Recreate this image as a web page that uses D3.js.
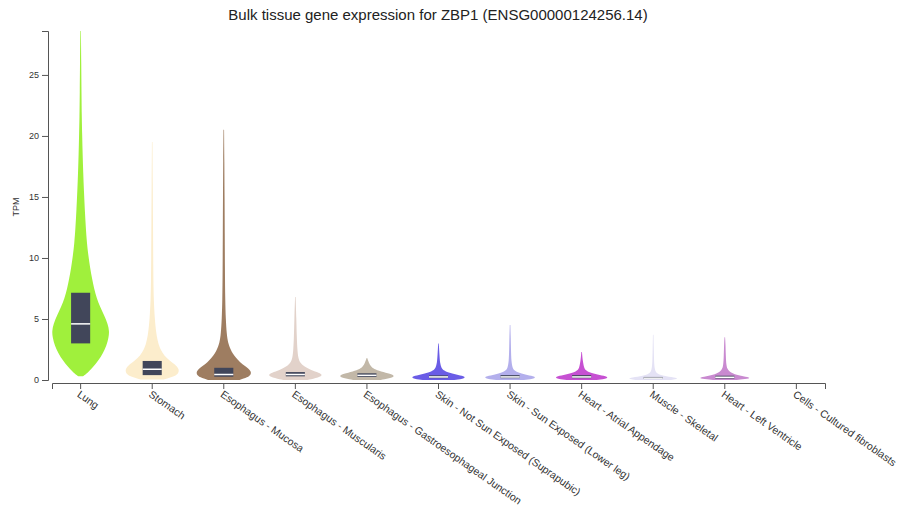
<!DOCTYPE html>
<html>
<head>
<meta charset="utf-8">
<script src="https://cdn.jsdelivr.net/npm/d3@7"></script>
<style>
  html, body { margin: 0; padding: 0; background: #fff; }
  svg { display: block; font-family: "Liberation Sans", Arial, sans-serif; }
</style>
</head>
<body>
<svg id="chart" width="898" height="510"></svg>
<script>
// ---- data ----
const title = "Bulk tissue gene expression for ZBP1 (ENSG00000124256.14)";
const yLabel = "TPM";
const tissues = [
  "Lung", "Stomach", "Esophagus - Mucosa", "Esophagus - Muscularis",
  "Esophagus - Gastroesophageal Junction", "Skin - Not Sun Exposed (Suprapubic)",
  "Skin - Sun Exposed (Lower leg)", "Heart - Atrial Appendage", "Muscle - Skeletal",
  "Heart - Left Ventricle", "Cells - Cultured fibroblasts"
];
const colors = ["#a0f03c", "#fcedcc", "#9e7d61", "#e2d2ca", "#c2b8a8", "#6a5ce6",
                "#b3afec", "#c650d2", "#e4e2f5", "#c98ad0", "#9ac0cd"];
const yTicks = [0, 5, 10, 15, 20, 25];

// violin profiles: [TPM, relative density]
const lungProfile = [[0.3,0.08],[0.5,0.2],[0.75,0.3],[1.1,0.45],[1.6,0.62],[2.2,0.78],[2.8,0.9],[3.5,0.98],[4.0,1.0],[4.6,0.95],[5.3,0.82],[6.0,0.68],[6.7,0.56],[7.5,0.47],[8.3,0.4],[9.2,0.33],[10.2,0.27],[11.2,0.22],[12.5,0.18],[14,0.145],[15.5,0.115],[17,0.09],[18.5,0.07],[20,0.055],[21.5,0.04],[23.5,0.03],[26,0.022],[28.6,0.01]];
const stomachProfile = [[0.05,0.4],[0.3,0.8],[0.6,0.93],[0.9,0.93],[1.2,0.84],[1.6,0.6],[2.0,0.42],[2.5,0.29],[3.0,0.21],[3.8,0.14],[5.0,0.09],[6.5,0.055],[8,0.042],[10,0.035],[13,0.028],[16,0.02],[19.5,0.01]];
const mucosaProfile = [[0.0,0.55],[0.2,0.83],[0.5,0.97],[0.8,0.93],[1.1,0.76],[1.5,0.55],[1.8,0.43],[2.2,0.3],[2.5,0.24],[3.0,0.15],[3.8,0.1],[5.0,0.07],[6.5,0.05],[9,0.04],[12,0.034],[15,0.028],[18,0.02],[20.5,0.01]];
const muscularisProfile = [[0.0,0.42],[0.2,0.83],[0.4,0.96],[0.6,0.83],[0.8,0.55],[1.1,0.31],[1.4,0.17],[1.8,0.1],[2.5,0.07],[3.5,0.05],[5,0.035],[6.8,0.01]];
const gejProfile = [[0.0,0.48],[0.2,0.9],[0.35,0.96],[0.5,0.83],[0.7,0.48],[0.9,0.24],[1.1,0.14],[1.4,0.07],[1.8,0.01]];
const skinNotSunProfile = [[0.0,0.55],[0.15,0.96],[0.3,0.9],[0.45,0.62],[0.6,0.34],[0.8,0.17],[1.0,0.1],[1.4,0.052],[2.0,0.035],[3.0,0.01]];
const skinSunProfile = [[0.0,0.48],[0.15,0.93],[0.3,0.83],[0.45,0.52],[0.6,0.28],[0.8,0.14],[1.0,0.086],[1.5,0.045],[2.5,0.031],[3.5,0.024],[4.5,0.01]];
const heartAAProfile = [[0.0,0.52],[0.15,0.96],[0.3,0.86],[0.45,0.55],[0.6,0.28],[0.8,0.14],[1.0,0.086],[1.5,0.041],[2.3,0.01]];
const muscleProfile = [[0.0,0.62],[0.1,0.9],[0.2,0.76],[0.35,0.34],[0.5,0.14],[0.8,0.052],[1.5,0.028],[2.5,0.02],[3.7,0.01]];
const heartLVProfile = [[0.0,0.41],[0.1,0.83],[0.2,0.9],[0.35,0.55],[0.5,0.28],[0.8,0.1],[1.2,0.052],[2.0,0.035],[3.0,0.024],[3.5,0.01]];
const fibroblastProfile = [];
const profiles = [lungProfile, stomachProfile, mucosaProfile, muscularisProfile, gejProfile,
  skinNotSunProfile, skinSunProfile, heartAAProfile, muscleProfile, heartLVProfile, fibroblastProfile];

// box stats
const q1 = [3.0, 0.4, 0.27, 0.3, 0.25, 0.15, 0.15, 0.15, 0.08, 0.12, null];
const medians = [4.6, 0.88, 0.45, 0.45, 0.38, 0.25, 0.25, 0.25, 0.15, 0.22, null];
const q3 = [7.15, 1.56, 1.0, 0.65, 0.55, 0.38, 0.4, 0.4, 0.25, 0.35, null];

// ---- drawing ----
const svg = d3.select("#chart");
const x = d3.scaleBand().domain(tissues).range([52, 825]).paddingInner(0.2).paddingOuter(0);
const y = d3.scaleLinear().domain([0, 28.6]).range([380, 31]);

svg.append("text")
  .attr("x", 438).attr("y", 20)
  .attr("text-anchor", "middle")
  .attr("font-size", 15)
  .attr("fill", "#222")
  .text(title);

const hw = x.bandwidth() / 2;
const area = d3.area()
  .y(d => y(d[0]))
  .x0(d => -d[1] * hw)
  .x1(d => d[1] * hw)
  .curve(d3.curveBasis);

tissues.forEach((t, i) => {
  const g = svg.append("g").attr("transform", `translate(${x(t) + hw},0)`);
  const prof = profiles[i];
  if (prof.length) {
    g.append("path")
      .attr("d", area(prof))
      .attr("fill", colors[i])
      .attr("stroke", "none");
  }
  if (q1[i] !== null) {
    const bw = x.bandwidth() / 3;
    g.append("rect")
      .attr("x", -bw / 2).attr("width", bw)
      .attr("y", y(q3[i])).attr("height", Math.max(1, y(q1[i]) - y(q3[i])))
      .attr("fill", "#41465a");
    g.append("line")
      .attr("x1", -bw / 2).attr("x2", bw / 2)
      .attr("y1", y(medians[i])).attr("y2", y(medians[i]))
      .attr("stroke", "#fff").attr("stroke-width", 1.5);
  }
});

// y axis
const yAxis = svg.append("g")
  .attr("transform", "translate(48,0)")
  .call(d3.axisLeft(y).tickValues(yTicks));
yAxis.selectAll("text").attr("font-size", 9).attr("fill", "#333");
yAxis.selectAll("path, line").attr("stroke", "#555");

svg.append("text")
  .attr("transform", "translate(19,207) rotate(-90)")
  .attr("text-anchor", "middle")
  .attr("font-size", 9)
  .attr("fill", "#333")
  .text(yLabel);

// x axis
const xAxis = svg.append("g")
  .attr("transform", "translate(0,383)")
  .call(d3.axisBottom(x).tickSizeOuter(6));
xAxis.selectAll("path, line").attr("stroke", "#555");
xAxis.selectAll("text")
  .attr("font-size", 10.5)
  .attr("fill", "#333")
  .attr("text-anchor", "start")
  .attr("x", 0).attr("y", 0).attr("dy", "0.35em")
  .attr("transform", "translate(-2,10) rotate(35)");
</script>
</body>
</html>
